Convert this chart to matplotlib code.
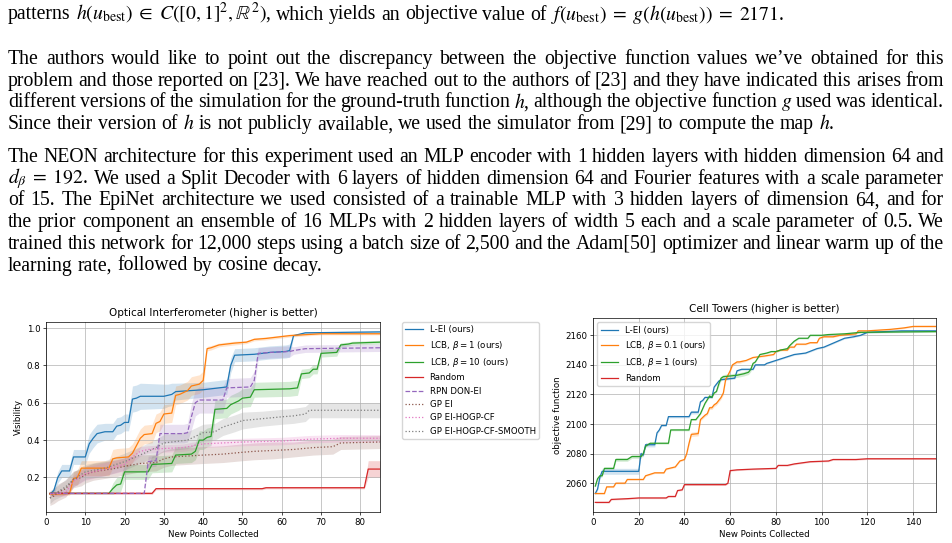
import re
import numpy as np
import matplotlib
matplotlib.use('Agg')
import matplotlib.pyplot as plt

# ---------------- text of the page ----------------
line_first = r"patterns $h(u_{\mathrm{best}}) \;\in\; C([0,1]^2, \mathbb{R}^2)$, which yields an objective value of $f(u_{\mathrm{best}}) \;=\; g(h(u_{\mathrm{best}})) \;=\; 2171$."
para2 = [
    "The authors would like to point out the discrepancy between the objective function values we\u2019ve obtained for this",
    "problem and those reported on [23]. We have reached out to the authors of [23] and they have indicated this arises from",
    r"different versions of the simulation for the ground-truth function $h$, although the objective function $g$ used was identical.",
    r"Since their version of $h$ is not publicly available, we used the simulator from [29] to compute the map $h$.",
]
para3 = [
    "The NEON architecture for this experiment used an MLP encoder with 1 hidden layers with hidden dimension 64 and",
    r"$d_\beta \;=\; 192$. We used a Split Decoder with 6 layers of hidden dimension 64 and Fourier features with a scale parameter",
    "of 15. The EpiNet architecture we used consisted of a trainable MLP with 3 hidden layers of dimension 64, and for",
    "the prior component an ensemble of 16 MLPs with 2 hidden layers of width 5 each and a scale parameter of 0.5. We",
    "trained this network for 12,000 steps using a batch size of 2,500 and the Adam[50] optimizer and linear warm up of the",
    "learning rate, followed by cosine decay.",
]

# ---------------- Optical Interferometer data ----------------
oi_xticks = [0, 10, 20, 30, 40, 50, 60, 70, 80]
oi_yticks = [0.2, 0.4, 0.6, 0.8, 1.0]

lei_x = [1, 2, 3, 4, 6, 7, 10, 11, 12, 13, 15, 17, 18, 19, 20, 21, 22, 23, 24, 30, 31, 32, 33, 40, 44, 46, 47, 48, 53, 55, 57, 61, 62, 63, 66, 85]
lei_y = [0.11, 0.13, 0.20, 0.235, 0.235, 0.31, 0.31, 0.38, 0.41, 0.435, 0.445, 0.445, 0.475, 0.48, 0.495, 0.495, 0.62, 0.625, 0.635, 0.635,
         0.64, 0.645, 0.66, 0.67, 0.68, 0.685, 0.80, 0.855, 0.86, 0.865, 0.87, 0.875, 0.88, 0.96, 0.975, 0.98]
lei_s = [0.005, 0.02, 0.03, 0.035, 0.035, 0.04, 0.04, 0.05, 0.05, 0.05, 0.045, 0.045, 0.045, 0.045, 0.045, 0.045, 0.07, 0.07, 0.07, 0.065,
         0.06, 0.06, 0.045, 0.04, 0.04, 0.04, 0.04, 0.035, 0.035, 0.035, 0.035, 0.035, 0.035, 0.005, 0.005, 0.005]

lcb1_x = [1, 6, 7, 8, 9, 16, 17, 18, 21, 22, 23, 24, 25, 27, 28, 29, 30, 32, 33, 34, 35, 36, 37, 39, 40, 41, 42, 44, 46, 48, 51, 53, 56, 58, 60, 62, 70, 85]
lcb1_y = [0.11, 0.115, 0.195, 0.20, 0.25, 0.25, 0.30, 0.305, 0.31, 0.33, 0.37, 0.41, 0.43, 0.435, 0.49, 0.50, 0.54, 0.545, 0.64, 0.645,
          0.655, 0.665, 0.69, 0.70, 0.72, 0.89, 0.895, 0.91, 0.915, 0.92, 0.925, 0.94, 0.945, 0.95, 0.955, 0.96, 0.97, 0.97]
lcb1_s = [0.01, 0.01, 0.035, 0.04, 0.04, 0.04, 0.05, 0.05, 0.05, 0.05, 0.05, 0.05, 0.05, 0.05, 0.05, 0.05, 0.05, 0.05, 0.05, 0.05,
          0.05, 0.05, 0.05, 0.05, 0.05, 0.012, 0.012, 0.01, 0.01, 0.01, 0.008, 0.008, 0.008, 0.008, 0.008, 0.008, 0.006, 0.006]

lcb10_x = [1, 16, 17, 18, 19, 20, 26, 27, 32, 33, 37, 38, 39, 40, 41, 42, 43, 46, 47, 49, 50, 52, 53, 62, 64, 65, 67, 68, 69, 70, 74, 75, 77, 78, 85]
lcb10_y = [0.115, 0.115, 0.14, 0.16, 0.165, 0.23, 0.23, 0.27, 0.275, 0.32, 0.325, 0.34, 0.40, 0.40, 0.415, 0.42, 0.565, 0.57, 0.59, 0.61,
           0.625, 0.63, 0.67, 0.675, 0.68, 0.755, 0.76, 0.78, 0.78, 0.865, 0.87, 0.91, 0.915, 0.92, 0.925]
lcb10_s = [0.004, 0.004, 0.03, 0.04, 0.04, 0.04, 0.04, 0.045, 0.045, 0.045, 0.045, 0.045, 0.05, 0.05, 0.05, 0.05, 0.05, 0.05, 0.05, 0.05,
           0.05, 0.05, 0.04, 0.04, 0.04, 0.025, 0.025, 0.025, 0.025, 0.02, 0.02, 0.012, 0.01, 0.01, 0.01]

rand_x = [1, 27, 28, 55, 56, 81, 82, 85]
rand_y = [0.115, 0.115, 0.14, 0.14, 0.145, 0.145, 0.245, 0.245]
rand_s = [0.006, 0.006, 0.006, 0.006, 0.006, 0.006, 0.045, 0.045]

rpn_x = [1, 25, 26, 28, 29, 35, 36, 37, 38, 39, 45, 46, 52, 53, 54, 57, 62, 63, 66, 85]
rpn_y = [0.115, 0.115, 0.285, 0.29, 0.435, 0.435, 0.44, 0.525, 0.60, 0.615, 0.615, 0.68, 0.685, 0.72, 0.865, 0.87, 0.875, 0.88, 0.89, 0.895]
rpn_s = [0.004, 0.004, 0.03, 0.03, 0.05, 0.05, 0.05, 0.07, 0.07, 0.07, 0.07, 0.05, 0.05, 0.05, 0.03, 0.03, 0.03, 0.02, 0.02, 0.02]

gpei_x = [1, 2, 3, 5, 7, 9, 10, 12, 15, 18, 20, 24, 28, 30, 32, 36, 40, 45, 50, 53, 58, 63, 68, 73, 75, 85]
gpei_y = [0.09, 0.10, 0.12, 0.14, 0.19, 0.20, 0.215, 0.23, 0.24, 0.25, 0.26, 0.275, 0.28, 0.30, 0.31, 0.315, 0.32, 0.325, 0.335, 0.34,
          0.345, 0.35, 0.36, 0.365, 0.385, 0.39]
gpei_s = [0.04, 0.04, 0.045, 0.045, 0.045, 0.045, 0.045, 0.045, 0.045, 0.045, 0.045, 0.045, 0.045, 0.045, 0.045, 0.045, 0.045, 0.045, 0.045, 0.045,
          0.045, 0.04, 0.04, 0.04, 0.035, 0.035]

hogp_x = [1, 5, 7, 10, 14, 18, 20, 22, 24, 26, 30, 35, 40, 45, 50, 60, 67, 75, 85]
hogp_y = [0.11, 0.12, 0.18, 0.22, 0.24, 0.26, 0.27, 0.31, 0.34, 0.35, 0.355, 0.36, 0.38, 0.385, 0.39, 0.395, 0.405, 0.41, 0.41]
hogp_s = [0.01, 0.02, 0.03, 0.035, 0.035, 0.035, 0.035, 0.03, 0.025, 0.02, 0.02, 0.02, 0.02, 0.02, 0.02, 0.02, 0.02, 0.02, 0.02]

smooth_x = [1, 2, 5, 7, 10, 15, 20, 25, 28, 30, 32, 36, 40, 43, 45, 48, 50, 55, 60, 63, 66, 67, 85]
smooth_y = [0.09, 0.11, 0.15, 0.19, 0.23, 0.25, 0.285, 0.33, 0.36, 0.385, 0.39, 0.40, 0.44, 0.445, 0.47, 0.49, 0.505, 0.515, 0.525, 0.53,
            0.54, 0.56, 0.56]
smooth_s = [0.03, 0.03, 0.04, 0.04, 0.04, 0.04, 0.045, 0.045, 0.045, 0.045, 0.045, 0.045, 0.045, 0.045, 0.045, 0.045, 0.045, 0.04, 0.04, 0.04,
            0.04, 0.04, 0.04]

# ---------------- Cell Towers data ----------------
ct_xticks = [0, 20, 40, 60, 80, 100, 120, 140]
ct_yticks = [2060, 2080, 2100, 2120, 2140, 2160]

lei2_x = [1, 2, 3, 4, 20, 21, 22, 23, 27, 28, 29, 30, 32, 33, 42, 43, 46, 47, 48, 49, 52, 53, 54, 55, 56, 62, 63, 65, 70, 71,
          75, 76, 80, 84, 88, 93, 98, 101, 104, 107, 110, 114, 117, 120, 135, 150]
lei2_y = [2053, 2056, 2064, 2068, 2068, 2080, 2079, 2086, 2086, 2094, 2096, 2099, 2099, 2105, 2105, 2108, 2108, 2115, 2116, 2118,
          2118, 2125, 2127, 2129, 2130, 2131, 2136, 2137, 2137, 2140, 2140, 2141, 2143, 2145, 2147, 2148, 2151, 2152, 2154, 2156,
          2158, 2159, 2160, 2162, 2163, 2163]
lei2_s = [0.5, 0.8, 1.5, 2, 2, 1.5, 1.2, 1.5, 1.5, 0.8, 0.8, 0.6, 0.6, 0.8, 0.8, 1.2, 1.2, 0.6, 0.6, 0.6,
          0.6, 0.6, 0.6, 0.6, 0.6, 0.6, 0.6, 0.6, 0.6, 0.5, 0.5, 0.5, 0.5, 0.5, 0.5, 0.5, 0.5, 0.5, 0.5, 0.5,
          0.5, 0.5, 0.5, 0.5, 0.5, 0.5]

lcb01_x = [1, 5, 6, 9, 10, 14, 15, 22, 23, 27, 31, 32, 36, 37, 38, 40, 41, 42, 43, 46, 47, 49, 50, 51, 52, 53, 54, 56, 57, 58,
           60, 61, 63, 64, 67, 70, 75, 79, 80, 82, 85, 86, 88, 89, 93, 95, 98, 99, 101, 105, 108, 115, 116, 120, 130, 136, 140, 150]
lcb01_y = [2053, 2053, 2057.5, 2057.5, 2060, 2060, 2062.5, 2062.5, 2065, 2067, 2067, 2069.5, 2071, 2073, 2075, 2076, 2080, 2087, 2093, 2093.5,
           2103, 2106, 2107, 2111, 2111, 2113, 2114, 2118, 2121, 2130, 2136, 2140, 2142, 2142, 2143, 2145, 2146, 2147, 2149, 2150,
           2150, 2152, 2152, 2154, 2154, 2155, 2155, 2158, 2159, 2159, 2160, 2161, 2163, 2163, 2164, 2165, 2166, 2166]
lcb01_s = [0.5, 0.5, 0.5, 0.5, 0.5, 0.5, 0.5, 0.5, 0.5, 0.5, 0.5, 0.5, 0.5, 0.5, 0.5, 0.5, 0.5, 1.5, 1.5, 1.5,
           1.0, 1.0, 1.0, 1.2, 1.2, 1.2, 1.2, 1.2, 1.2, 1.2, 1.0, 1.0, 1.0, 1.0, 0.5, 0.5, 0.5, 0.5, 0.5, 0.5,
           0.5, 0.5, 0.5, 0.5, 0.5, 0.5, 0.5, 0.5, 0.5, 0.5, 0.5, 0.5, 0.5, 0.5, 0.5, 0.5, 0.5, 0.5]

lcb1r_x = [1, 2, 3, 4, 5, 9, 10, 15, 16, 17, 21, 22, 23, 24, 25, 33, 34, 42, 43, 45, 46, 47, 49, 51, 52, 53, 54, 55, 56, 57,
           63, 66, 68, 69, 70, 71, 73, 76, 78, 80, 82, 85, 86, 88, 90, 94, 95, 100, 103, 110, 117, 150]
lcb1r_y = [2058, 2063, 2065, 2065, 2070, 2070, 2076, 2076, 2077, 2078, 2078, 2080, 2085, 2086, 2087, 2087, 2096, 2096, 2103, 2103,
           2105, 2107, 2114, 2119, 2118, 2121, 2122, 2127, 2131, 2132, 2133, 2134, 2135, 2137, 2141, 2142, 2147, 2148, 2149, 2149,
           2150, 2151, 2153, 2156, 2158, 2158, 2160, 2160, 2160.5, 2161, 2162, 2162.5]
lcb1r_s = [0.8, 0.8, 0.8, 0.8, 0.8, 0.8, 1.2, 1.2, 1.2, 1.2, 1.2, 0.6, 0.6, 0.6, 0.6, 0.6, 0.6, 0.6, 0.6, 0.6,
           0.6, 0.6, 0.6, 0.6, 0.6, 0.6, 0.6, 1.5, 1.5, 1.5, 1.5, 1.5, 1.5, 1.5, 0.5, 0.5, 0.5, 0.5, 0.5, 0.5,
           0.5, 0.5, 0.5, 0.5, 0.5, 0.5, 0.5, 0.5, 0.5, 0.5, 0.5, 0.5]

rand2_x = [1, 7, 8, 15, 20, 32, 33, 36, 37, 39, 40, 58, 59, 60, 63, 70, 80, 81, 85, 88, 95, 103, 105, 115, 120, 150]
rand2_y = [2047, 2047, 2049, 2049.5, 2050, 2050, 2051, 2051, 2055, 2055.5, 2059, 2059, 2060, 2068.5, 2069, 2069.5, 2070, 2072, 2072, 2073,
           2074.5, 2075, 2076, 2076, 2076.5, 2076.5]
rand2_s = [0.5, 0.5, 0.5, 0.5, 0.5, 0.5, 0.5, 0.5, 0.5, 0.5, 0.5, 0.5, 0.5, 0.5, 0.5, 0.5, 0.5, 0.5, 0.5, 0.5,
           0.5, 0.5, 0.5, 0.5, 0.5, 0.5]

# ---------------- style ----------------
W, H = 952, 543
BASE = 6.2
plt.rcParams.update({
    'font.family': 'DejaVu Sans',
    'font.size': BASE,
    'axes.linewidth': 0.5,
    'grid.linewidth': 0.5,
    'xtick.major.width': 0.5, 'ytick.major.width': 0.5,
    'xtick.major.size': 2.1, 'ytick.major.size': 2.1,
    'xtick.major.pad': 2.1, 'ytick.major.pad': 2.1,
    'lines.linewidth': 0.9,
    'legend.fontsize': BASE,
    'axes.titlesize': BASE * 1.2,
    'mathtext.fontset': 'dejavusans',
})

fig = plt.figure(figsize=(W / 100, H / 100), dpi=100)
SERIF = 'Liberation Serif'


def fx(px):
    return px / W


def fy(py):
    return 1 - py / H


# ---------------- page text with justification ----------------
renderer = fig.canvas.get_renderer()
tok = re.compile(r'(?:\$[^$]*\$|[^\s$])+')


def measure(s, fs):
    t = fig.text(0, 0, s, fontsize=fs, family=SERIF, math_fontfamily='stix')
    w = t.get_window_extent(renderer=renderer).width
    t.remove()
    return w


def space(f):
    return 0.25 * f * 100 / 72


left_px, right_px = 8, 944
target = right_px - left_px
fs0 = 14.0
justified = para2[:-1] + para3[:-1]

# font size such that the tightest line fits with spaces shrunk (as TeX allows)
need_max = 0
for ln in justified:
    ws = tok.findall(ln)
    need = sum(measure(w, fs0) for w in ws) + 0.74 * space(fs0) * (len(ws) - 1)
    need_max = max(need_max, need)
fs = fs0 * target / need_max


def put_line(line, ybase, justify):
    ws = tok.findall(line)
    widths = [measure(w, fs) for w in ws]
    if justify and len(ws) > 1:
        gap = (target - sum(widths)) / (len(ws) - 1)
    else:
        gap = space(fs)
    x = left_px
    for w, wd in zip(ws, widths):
        fig.text(fx(x), fy(ybase), w, fontsize=fs, family=SERIF, math_fontfamily='stix',
                 ha='left', va='baseline')
        x += wd + gap


lead = 21.7
put_line(line_first, 19.5, False)
for i, ln in enumerate(para2):
    put_line(ln, 64 + i * lead, i < len(para2) - 1)
for i, ln in enumerate(para3):
    put_line(ln, 162 + i * lead, i < len(para3) - 1)


# ---------------- charts ----------------
def series(ax, x, y, s, color, ls, label):
    x = np.asarray(x, float)
    y = np.asarray(y, float)
    s = np.asarray(s, float)
    ax.fill_between(x, y - s, y + s, color=color, alpha=0.2, linewidth=0)
    ax.plot(x, y, color=color, ls=ls, label=label)


ax1 = fig.add_axes([fx(46), fy(512), fx(380) - fx(46), fy(322) - fy(512)])
series(ax1, lei_x, lei_y, lei_s, 'tab:blue', '-', 'L-EI (ours)')
series(ax1, lcb1_x, lcb1_y, lcb1_s, 'tab:orange', '-', r'LCB, $\beta = 1$ (ours)')
series(ax1, lcb10_x, lcb10_y, lcb10_s, 'tab:green', '-', r'LCB, $\beta = 10$ (ours)')
series(ax1, rand_x, rand_y, rand_s, 'tab:red', '-', 'Random')
series(ax1, rpn_x, rpn_y, rpn_s, 'tab:purple', '--', 'RPN DON-EI')
series(ax1, gpei_x, gpei_y, gpei_s, 'tab:brown', ':', 'GP EI')
series(ax1, hogp_x, hogp_y, hogp_s, 'tab:pink', ':', 'GP EI-HOGP-CF')
series(ax1, smooth_x, smooth_y, smooth_s, 'tab:gray', ':', 'GP EI-HOGP-CF-SMOOTH')
ax1.set_xlim(0, 85)
ax1.set_ylim(0.015, 1.033)
ax1.set_xticks(oi_xticks)
ax1.set_yticks(oi_yticks)
ax1.grid(True)
ax1.set_title('Optical Interferometer (higher is better)', pad=4)
ax1.set_xlabel('New Points Collected', labelpad=2.5)
ax1.set_ylabel('Visibility', labelpad=2.5)
ax1.legend(loc='upper left', bbox_to_anchor=((402 - 46) / 334, 1.0), borderaxespad=0)

ax2 = fig.add_axes([fx(593), fy(512), fx(936) - fx(593), fy(318) - fy(512)])
series(ax2, lei2_x, lei2_y, lei2_s, 'tab:blue', '-', 'L-EI (ours)')
series(ax2, lcb01_x, lcb01_y, lcb01_s, 'tab:orange', '-', r'LCB, $\beta = 0.1$ (ours)')
series(ax2, lcb1r_x, lcb1r_y, lcb1r_s, 'tab:green', '-', r'LCB, $\beta = 1$ (ours)')
series(ax2, rand2_x, rand2_y, rand2_s, 'tab:red', '-', 'Random')
ax2.set_xlim(0, 150)
ax2.set_ylim(2040.5, 2171.7)
ax2.set_xticks(ct_xticks)
ax2.set_yticks(ct_yticks)
ax2.grid(True)
ax2.set_title('Cell Towers (higher is better)', pad=4)
ax2.set_xlabel('New Points Collected', labelpad=2.5)
ax2.set_ylabel('objective function', labelpad=2.5)
ax2.legend(loc='upper left')

fig.savefig('out.png', dpi=100)
